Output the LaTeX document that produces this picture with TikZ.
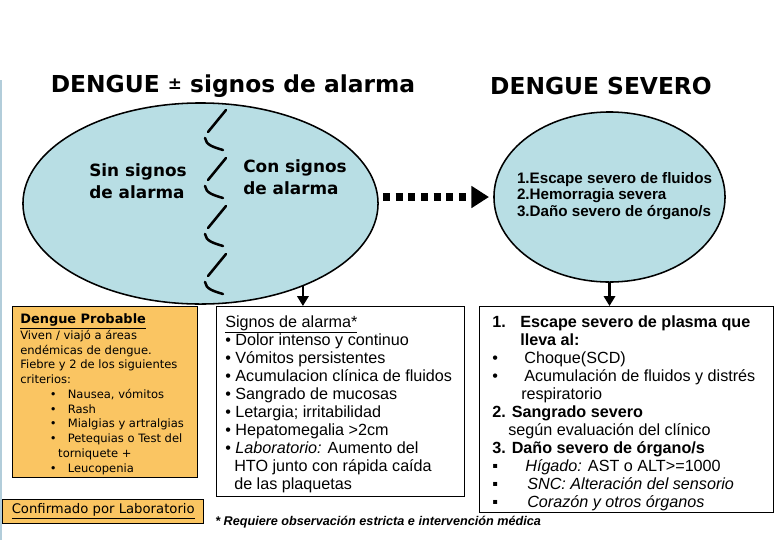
\documentclass[tikz,border=0pt]{standalone}
\usepackage{fontspec}
\setmainfont{Liberation Sans}
\newfontfamily\verdfont{DejaVu Sans}
\usepackage{tikz}
\usetikzlibrary{positioning,arrows.meta,shapes.geometric}
\definecolor{skyfill}{RGB}{184,222,228}
\definecolor{probfill}{RGB}{250,197,98}
\definecolor{edgestrip}{RGB}{178,205,218}
\tikzset{
  bubble/.style={draw, ellipse, line width=1.1pt, fill=skyfill, inner sep=0pt},
  headline/.style={font=\verdfont\bfseries\fontsize{16.6}{18}\selectfont, inner sep=0pt},
  bubbletext/.style={font=\verdfont\bfseries\fontsize{12}{15.6}\selectfont, align=left, inner sep=0pt},
  probbox/.style={draw, line width=1pt, fill=probfill, anchor=north west, inner sep=0pt},
  listbox/.style={draw, line width=0.9pt, fill=white, anchor=north west, inner sep=0pt},
  probtext/.style={font=\verdfont\fontsize{8.2}{10.5}\selectfont, align=left, anchor=north west, inner sep=0pt},
  listtext/.style={font=\fontsize{11.5}{12.8}\selectfont, align=left, anchor=north west, inner sep=0pt},
  downarrow/.style={-{Triangle[length=7pt,width=8pt]}, line width=1.6pt},
  dotarrow/.style={-{Triangle[length=12.5pt,width=15pt]}, line width=5pt, dash pattern=on 5pt off 4pt},
  zigzag/.style={line width=1.8pt, line cap=round}
}

\begin{document}
\begin{tikzpicture}[x=0.025cm, y=-0.025cm]
  \useasboundingbox (0,0) rectangle (780,540);
  \draw[edgestrip, line width=1.2pt] (1,80) -- (1,540);

  \node[headline] (mildtitle) at (233,86) {DENGUE {\fontsize{12}{12}\selectfont\raisebox{2pt}{±}} signos de alarma};
  \node[headline] (severetitle) at (601,86) {DENGUE SEVERO};

  \node[bubble, minimum width=8.875cm, minimum height=5.025cm] (mild) at (200.5,203.5) {};
  \node[bubble, minimum width=5.775cm, minimum height=4.25cm] (severe) at (609.5,197) {};
  \node[font=\bfseries\fontsize{10.8}{12}\selectfont, align=left, inner sep=0pt] (severesigns) at (614.5,196) {1.Escape severo de fluidos\\2.Hemorragia severa\\3.Daño severo de órgano/s};

  \foreach \y in {110,158,206,254}
    \draw[zigzag] (226,\y) -- (208,\y+22) (205,\y+28) .. controls (206,\y+35) and (213,\y+37) .. (223,\y+40);

  \node[bubbletext] (nosigns) at (138,181) {Sin signos\\de alarma};
  \node[bubbletext] (withsigns) at (295,177) {Con signos\\de alarma};

  \draw[dotarrow, shorten <=3pt, shorten >=3pt] (mild.east |- severe.west) -- (severe.west);

  \node[probbox, minimum width=4.625cm, minimum height=4.275cm] (probable) at (12,306) {};
  \node[probtext] (probablelist) at (20,313) {{\bfseries\fontsize{9.2}{10.5}\selectfont\underline{Dengue Probable}}\\Viven / viajó a áreas\\endémicas de dengue.\\Fiebre y 2 de los siguientes\\criterios:\\\hspace*{21pt}\makebox[12.8pt][l]{•}Nausea, vómitos\\\hspace*{21pt}\makebox[12.8pt][l]{•}Rash\\\hspace*{21pt}\makebox[12.8pt][l]{•}Mialgias y artralgias\\\hspace*{21pt}\makebox[12.8pt][l]{•}Petequias o Test del\\\hspace*{27pt}torniquete +\\\hspace*{21pt}\makebox[12.8pt][l]{•}Leucopenia};

  \node[probbox, minimum width=5.025cm, minimum height=0.6cm, font=\verdfont\fontsize{9.4}{11}\selectfont] (confirmed) at (2,499) {\underline{Confirmado por Laboratorio}};

  \node[listbox, minimum width=6.2cm, minimum height=4.75cm] (alarms) at (216,306) {};
  \node[listtext] (alarmlist) at (225,315) {\underline{Signos de alarma*}\\• Dolor intenso y continuo\\• Vómitos persistentes\\• Acumulacion clínica de fluidos\\• Sangrado de mucosas\\• Letargia; irritabilidad\\• Hepatomegalia >2cm\\• \textit{Laboratorio:} Aumento del\\\hspace*{6.4pt}HTO junto con rápida caída\\\hspace*{6.4pt}de las plaquetas};

  \node[listbox, minimum width=7.35cm, minimum height=5.15cm] (severebox) at (479,306) {};
  \node[listtext] (severelist) at (492,315) {\textbf{\makebox[19.9pt][l]{1.}Escape severo de plasma que}\\\hspace*{19.9pt}\textbf{lleva al:}\\\makebox[22.8pt][l]{•}Choque(SCD)\\\makebox[22.8pt][l]{•}Acumulación de fluidos y distrés\\\hspace*{20.6pt}respiratorio\\\textbf{2. Sangrado severo}\\\hspace*{11.4pt}según evaluación del clínico\\\textbf{3. Daño severo de órgano/s}\\\makebox[23.5pt][l]{▪}\textit{Hígado:} AST o ALT>=1000\\\makebox[24.9pt][l]{▪}\textit{SNC: Alteración del sensorio}\\\makebox[24.9pt][l]{▪}\textit{Corazón y otros órganos}};

  \node[font=\bfseries\itshape\fontsize{9}{11}\selectfont, anchor=west, inner sep=0pt] (footnote) at (215,522) {* Requiere observación estricta e intervención médica};

  \draw[downarrow] (mild.-39) -- (mild.-39 |- alarms.north);
  \draw[downarrow] (severe.south) -- (severe.south |- severebox.north);
\end{tikzpicture}
\end{document}
